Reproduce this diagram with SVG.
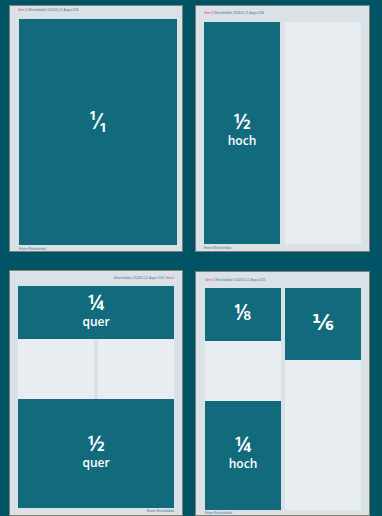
<svg xmlns="http://www.w3.org/2000/svg" width="382" height="516" viewBox="0 0 382 516">
<style>
.page{fill:#dae2e8;stroke:#857f72;stroke-width:1}
.ad{fill:#126b7d}
.free{fill:#e8edf1}
.frac{font-family:"Open Sans","DejaVu Sans",sans-serif;font-weight:600;font-size:21px;fill:#ffffff;text-anchor:middle}
.lbl{font-family:"Open Sans","DejaVu Sans",sans-serif;font-weight:600;font-size:12px;fill:#ffffff;text-anchor:middle}
.hd{font-family:"Liberation Sans",sans-serif;font-size:2.6px;fill:#3a6a86}
.red{fill:#d9263a}
</style>
<rect x="0" y="0" width="382" height="516" fill="#005466"/>
<g id="page1">
<rect class="page" x="9.5" y="5.5" width="173" height="246"/>
<text class="hd" x="18" y="11"><tspan class="red">Seite 4</tspan> | Wirtschaftsblatt | 35/2016 | 25. August 2016</text>
<rect class="ad" x="19" y="19" width="158" height="226"/>
<text class="frac" x="98" y="129">¹⁄₁</text>
<text class="hd" x="19" y="250">Erfurter Wirtschaftsblatt</text>
</g>
<g id="page2">
<rect class="page" x="195.5" y="5.5" width="174" height="246"/>
<text class="hd" x="204" y="14"><tspan class="red">Seite 4</tspan> | Wirtschaftsblatt | 35/2016 | 25. August 2016</text>
<rect class="ad" x="204" y="22" width="76" height="222"/>
<rect class="free" x="285" y="22" width="76" height="222"/>
<text class="frac" x="242" y="129">½</text>
<text class="lbl" x="242" y="145">hoch</text>
<text class="hd" x="204" y="249">Erfurter Wirtschaftsblatt</text>
</g>
<g id="page3">
<rect class="page" x="9.5" y="270.5" width="173" height="245"/>
<text class="hd" x="174" y="279" text-anchor="end">Wirtschaftsblatt | 35/2016 | 25. August 2016 | <tspan class="red">Seite 4</tspan></text>
<rect class="ad" x="18" y="286" width="156" height="53"/>
<rect class="free" x="18" y="339" width="76" height="60"/>
<rect class="free" x="98" y="339" width="76" height="60"/>
<rect class="ad" x="18" y="399" width="156" height="109"/>
<text class="frac" x="96" y="310">¼</text>
<text class="lbl" x="96" y="326">quer</text>
<text class="frac" x="96" y="451">½</text>
<text class="lbl" x="96" y="467">quer</text>
<text class="hd" x="174" y="512" text-anchor="end">Erfurter Wirtschaftsblatt</text>
</g>
<g id="page4">
<rect class="page" x="195.5" y="271.5" width="174" height="244"/>
<text class="hd" x="205" y="281"><tspan class="red">Seite 4</tspan> | Wirtschaftsblatt | 35/2016 | 25. August 2016</text>
<rect class="ad" x="205" y="288" width="76" height="53"/>
<rect class="free" x="205" y="341" width="76" height="60"/>
<rect class="ad" x="205" y="401" width="76" height="109"/>
<rect class="ad" x="285" y="288" width="76" height="72"/>
<rect class="free" x="285" y="360" width="76" height="150"/>
<text class="frac" x="243" y="320">⅛</text>
<text class="frac" x="323" y="330">⅙</text>
<text class="frac" x="243" y="452">¼</text>
<text class="lbl" x="243" y="468">hoch</text>
<text class="hd" x="205" y="514">Erfurter Wirtschaftsblatt</text>
</g>
<g id="connectors"></g>
</svg>
